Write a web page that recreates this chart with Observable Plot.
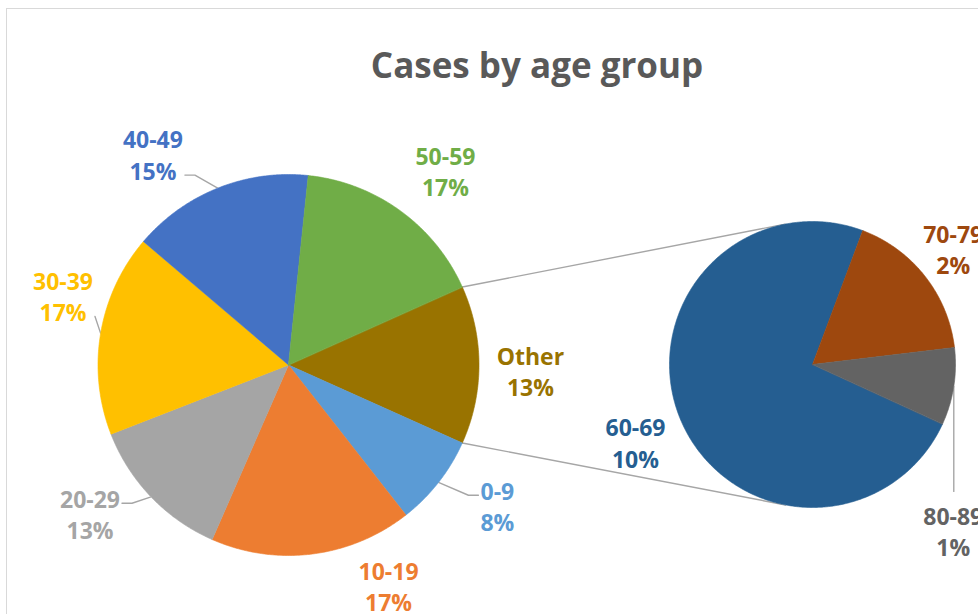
<!DOCTYPE html>
<html>
<head>
<meta charset="utf-8">
<script src="https://cdn.jsdelivr.net/npm/d3@7"></script>
<script src="https://cdn.jsdelivr.net/npm/@observablehq/plot@0.6"></script>
<style>
  body { margin: 0; background: #fff; }
  #wrap { position: relative; width: 978px; height: 614px; overflow: hidden; font-family: "Open Sans", sans-serif; background:#fff; }
  #frame { position: absolute; left: 6px; top: 8px; width: 1400px; height: 1400px; border-left: 1.5px solid #d9d9d9; border-top: 1.5px solid #d9d9d9; pointer-events: none; }
  #title { width: 1074px; height: 110px; box-sizing: border-box; padding-top: 41px; text-align: center; font-size: 35px; font-weight: 700; color: #595959; line-height: normal; letter-spacing: 0px; }
</style>
</head>
<body>
<div id="wrap">
  <div id="title">Cases by age group</div>
  <div id="chart"></div>
  <div id="frame"></div>
</div>
<script>
// ---------------- DATA ----------------
const mainLabels = ["0-9", "10-19", "20-29", "30-39", "40-49", "50-59"];
const mainValues = [7.7, 17.1, 12.5, 17.1, 15.4, 16.6];
const otherLabel = "Other";
const subLabels = ["60-69", "70-79", "80-89"];
const subValues = [9.9, 2.33, 1.17];

// ---------------- STYLE / LAYOUT ----------------
const mainColors = ["#5B9BD5", "#ED7D31", "#A5A5A5", "#FFC000", "#4472C4", "#70AD47"];
const otherColor = "#997300";
const subColors = ["#255E91", "#9E480E", "#636363"];

const W = 978, H = 504, TOP = 110;
const mainPie = { cx: 288, cy: 364.5, r: 190.5 };
const subPie = { cx: 812, cy: 364, r: 143, startDeg: 114.6 };
// label placement: angular shift (deg) from slice mid-angle, distance from pie centre, leader line
const labelLayout = {
  "0-9":   { shift: -4.1,  dist: 251.8, leader: true },
  "10-19": { shift: -17.2, dist: 242,   leader: false },
  "20-29": { shift: 7.0,   dist: 248,   leader: true },
  "30-39": { shift: 7.6,   dist: 236,   leader: true },
  "40-49": { shift: -10.9, dist: 250.8, leader: true },
  "50-59": { shift: 3.0,   dist: 250,   leader: false },
  "Other": { shift: 1.3,   dist: 242,   leader: false },
  "60-69": { shift: -1.2,  dist: 193.2, leader: false },
  "70-79": { shift: -1.35, dist: 182.3, leader: false },
  "80-89": { shift: 40.8,  dist: 217.5, leader: true }
};
const FS = 23, LH = 1.37;
const FONT = "Open Sans";

// ---------------- GEOMETRY ----------------
const rad = d => d * Math.PI / 180;
const pt = (c, r, a) => ({ x: c.cx + r * Math.sin(a), y: c.cy - r * Math.cos(a) });

const otherValue = d3.sum(subValues);
const total = d3.sum(mainValues) + otherValue;
const pct = v => Math.round(v / total * 100) + "%";

// main pie: Other first, centred at 3 o'clock
const mainData = [{ label: otherLabel, value: otherValue, color: otherColor }]
  .concat(mainLabels.map((l, i) => ({ label: l, value: mainValues[i], color: mainColors[i] })));
const otherSpan = otherValue / total * 2 * Math.PI;
const mainStart = Math.PI / 2 - otherSpan / 2;
const mainArcs = d3.pie().sort(null).value(d => d.value)
  .startAngle(mainStart).endAngle(mainStart + 2 * Math.PI)(mainData);

const subData = subLabels.map((l, i) => ({ label: l, value: subValues[i], color: subColors[i] }));
const subArcs = d3.pie().sort(null).value(d => d.value)
  .startAngle(rad(subPie.startDeg)).endAngle(rad(subPie.startDeg) + 2 * Math.PI)(subData);

function slicePolygon(a, c) {
  const pts = [{ x: c.cx, y: c.cy }];
  const n = Math.max(2, Math.ceil((a.endAngle - a.startAngle) / rad(0.5)));
  for (let i = 0; i <= n; i++) {
    pts.push(pt(c, c.r, a.startAngle + (a.endAngle - a.startAngle) * i / n));
  }
  return pts;
}
const sliceMarks = [];
mainArcs.forEach(a => sliceMarks.push(Plot.line(slicePolygon(a, mainPie), { x: "x", y: "y", fill: a.data.color, stroke: a.data.color, strokeWidth: 0.6, curve: "linear-closed" })));
subArcs.forEach(a => sliceMarks.push(Plot.line(slicePolygon(a, subPie), { x: "x", y: "y", fill: a.data.color, stroke: a.data.color, strokeWidth: 0.6, curve: "linear-closed" })));

// pie discs (for the soft shadow behind the slices)
const discs = [mainPie, subPie].map(c => ({ x: c.cx, y: c.cy, r: c.r }));

// connector lines: Other edges -> tangents of the secondary pie
const otherArc = mainArcs[0];
function tangent(E, c, upper) {
  const dx = E.x - c.cx, dy = E.y - c.cy;
  const D = Math.hypot(dx, dy), th = Math.atan2(dy, dx), off = Math.acos(c.r / D);
  const cands = [th + off, th - off].map(t => ({ x: c.cx + c.r * Math.cos(t), y: c.cy + c.r * Math.sin(t) }));
  cands.sort((a, b) => a.y - b.y);
  return upper ? cands[0] : cands[1];
}
const eUp = pt(mainPie, mainPie.r, otherArc.startAngle);
const eDn = pt(mainPie, mainPie.r, otherArc.endAngle);
const connectors = [
  { k: "up", ...eUp }, { k: "up", ...tangent(eUp, subPie, true) },
  { k: "dn", ...eDn }, { k: "dn", ...tangent(eDn, subPie, false) }
];

// labels
const ctx = document.createElement("canvas").getContext("2d");
ctx.font = `bold ${FS}px "${FONT}"`;
const labels = [], leaders = [];
function addLabels(arcs, c) {
  arcs.forEach(a => {
    const L = labelLayout[a.data.label];
    const mid = (a.startAngle + a.endAngle) / 2;
    const pos = pt(c, L.dist, mid + rad(L.shift));
    const t1 = a.data.label, t2 = pct(a.data.value);
    labels.push({ x: pos.x, y: pos.y, text: t1 + "\n" + t2, color: a.data.color });
    if (L.leader) {
      const P = pt(c, c.r, mid);
      const halfW = Math.max(ctx.measureText(t1).width, ctx.measureText(t2).width) / 2;
      const base0 = pos.y + (-LH / 2 + 0.32) * FS, base1 = pos.y + (LH / 2 + 0.32) * FS;
      const top = base0 - 0.72 * FS;
      const pts = [];
      if (P.x > pos.x + halfW || P.x < pos.x - halfW) {
        const s = P.x > pos.x ? 1 : -1;
        const Lp = { x: pos.x + s * (halfW + 2), y: (P.y < pos.y ? base0 : base1) - 2 };
        pts.push(Lp);
        if (Math.abs(P.x - Lp.x) > 20) pts.push({ x: Lp.x + s * 10, y: Lp.y });
      } else {
        pts.push({ x: P.x, y: P.y < pos.y ? top - 14 : base1 + 6 });
      }
      pts.push(P);
      pts.forEach(p => leaders.push({ k: a.data.label, ...p }));
    }
  });
}
addLabels(mainArcs, mainPie);
addLabels(subArcs, subPie);

// ---------------- PLOT ----------------
const chart = Plot.plot({
  width: W, height: H, margin: 0,
  x: { domain: [0, W], range: [0, W], axis: null },
  y: { domain: [TOP, TOP + H], range: [0, H], axis: null },
  r: { type: "identity" },
  color: { type: "identity" },
  style: { background: "transparent", overflow: "visible" },
  marks: [
    Plot.line(connectors, { x: "x", y: "y", z: "k", stroke: "#a6a6a6", strokeWidth: 1.4 }),
    Plot.line(leaders, { x: "x", y: "y", z: "k", stroke: "#a6a6a6", strokeWidth: 1.4 }),
    Plot.dot(discs, { x: "x", y: "y", r: "r", fill: "#ffffff", stroke: "none", ariaLabel: "discs" }),
    ...sliceMarks,
    Plot.text(labels, { x: "x", y: "y", text: "text", fill: "color", fontSize: FS, fontWeight: "bold", fontFamily: FONT, lineHeight: LH, textAnchor: "middle" })
  ]
});
d3.select(chart).selectAll('g[aria-label="discs"]').style("filter", "drop-shadow(0px 0px 3px rgba(0,0,0,0.3))");
document.getElementById("chart").appendChild(chart);
</script>
</body>
</html>
